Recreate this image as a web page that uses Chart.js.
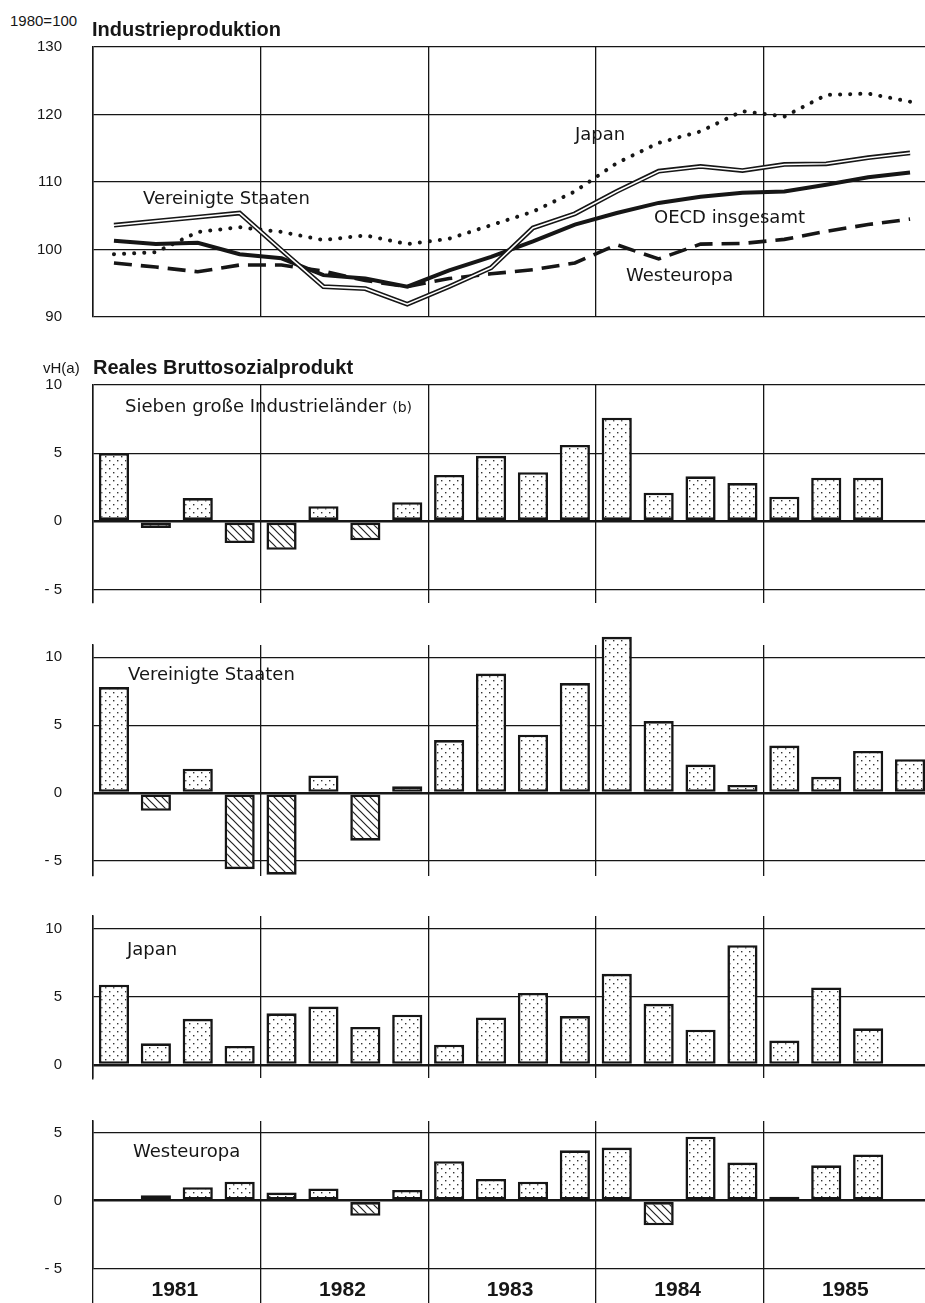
<!DOCTYPE html>
<html lang="de">
<head>
<meta charset="utf-8">
<title>Industrieproduktion und Reales Bruttosozialprodukt</title>
<script src="https://cdn.jsdelivr.net/npm/chart.js@4.4.1/dist/chart.umd.min.js"></script>
<style>
  html, body { margin: 0; padding: 0; background: #fff; overflow: hidden; }
  #page { position: relative; width: 925px; height: 1303px; overflow: hidden; }
  .panel { position: absolute; left: 0; }
  .panel canvas { display: block; }
  .label { position: absolute; white-space: nowrap; line-height: 1; color: #161616;
           font-family: "DejaVu Sans", sans-serif; font-size: 18px; z-index: 2; }
  .title { font-family: "Liberation Sans", Arial, sans-serif; font-weight: bold; font-size: 20px; }
  .unit { font-family: "Liberation Sans", Arial, sans-serif; font-size: 15px; }
  .small { font-size: 14px; }
</style>
</head>
<body>
<div id="page">
  <div class="label unit" style="left:10px; top:13px">1980=100</div>
  <div class="label title" style="left:92px; top:19px">Industrieproduktion</div>
  <div class="label" style="left:143px; top:189px">Vereinigte Staaten</div>
  <div class="label" style="left:575px; top:125px">Japan</div>
  <div class="label" style="left:654px; top:208px">OECD insgesamt</div>
  <div class="label" style="left:626px; top:266px">Westeuropa</div>

  <div class="label unit" style="left:43px; top:360px">vH(a)</div>
  <div class="label title" style="left:93px; top:357px">Reales Bruttosozialprodukt</div>
  <div class="label" style="left:125px; top:397px">Sieben große Industrieländer <span class="small">(b)</span></div>
  <div class="label" style="left:128px; top:665px">Vereinigte Staaten</div>
  <div class="label" style="left:127px; top:940px">Japan</div>
  <div class="label" style="left:133px; top:1142px">Westeuropa</div>
</div>

<script>
// quarters 1981 I .. 1985 IV
const quarters = [
    '1981 I', '1981 II', '1981 III', '1981 IV',
    '1982 I', '1982 II', '1982 III', '1982 IV',
    '1983 I', '1983 II', '1983 III', '1983 IV',
    '1984 I', '1984 II', '1984 III', '1984 IV',
    '1985 I', '1985 II', '1985 III', '1985 IV'
];
const years = ['1981', '1982', '1983', '1984', '1985'];

// Industrieproduktion, 1980 = 100
const prodUS = [103.6, 104.2, 104.8, 105.4, 99.9, 94.5, 94.2, 91.9, 94.5, 97.3,
                103.2, 105.3, 108.6, 111.6, 112.3, 111.7, 112.6, 112.7, 113.6, 114.3];
const prodJapan = [99.3, 99.6, 102.6, 103.3, 102.6, 101.4, 102.1, 100.8, 101.6, 103.6,
                   105.6, 108.6, 112.8, 115.8, 117.5, 120.5, 119.7, 122.9, 123.1, 121.9];
const prodOECD = [101.3, 100.8, 101.0, 99.3, 98.7, 96.2, 95.7, 94.5, 96.9, 98.9,
                  101.2, 103.7, 105.4, 106.9, 107.8, 108.4, 108.6, 109.6, 110.7, 111.4];
const prodWestEurope = [98.0, 97.4, 96.7, 97.7, 97.7, 96.8, 95.4, 94.5, 95.7, 96.4,
                        97.0, 98.0, 100.7, 98.6, 100.8, 100.9, 101.5, 102.7, 103.7, 104.5];

// Reales Bruttosozialprodukt, vH gegenüber Vorquartal (Jahresrate)
const gnpG7 = [5.0, -0.5, 1.7, -1.6, -2.1, 1.1, -1.4, 1.4, 3.4, 4.8,
               3.6, 5.6, 7.6, 2.1, 3.3, 2.8, 1.8, 3.2, 3.2, null];
const gnpUS = [7.8, -1.3, 1.8, -5.6, -6.0, 1.3, -3.5, 0.5, 3.9, 8.8,
               4.3, 8.1, 11.5, 5.3, 2.1, 0.6, 3.5, 1.2, 3.1, 2.5];
const gnpJapan = [5.9, 1.6, 3.4, 1.4, 3.8, 4.3, 2.8, 3.7, 1.5, 3.5,
                  5.3, 3.6, 6.7, 4.5, 2.6, 8.8, 1.8, 5.7, 2.7, null];
const gnpWestEurope = [0.1, 0.4, 1.0, 1.4, 0.6, 0.9, -1.1, 0.8, 2.9, 1.6,
                       1.4, 3.7, 3.9, -1.8, 4.7, 2.8, 0.3, 2.6, 3.4, null];

const prodTicks = [90, 100, 110, 120, 130];
const gnpTicks = [-5, 0, 5, 10];

const INK = '#161616';
const LEFT = 93;     // left edge of every plot area
const WIDTH = 931;   // runs a little past the page, like the original
const PAD = 10;

// fill patterns for the bars
function makeDots() {
    const c = document.createElement('canvas');
    c.width = 8; c.height = 8;
    const g = c.getContext('2d');
    g.fillStyle = '#fff';
    g.fillRect(0, 0, 8, 8);
    g.fillStyle = '#333';
    g.fillRect(1, 1, 1.4, 1.4);
    g.fillRect(5, 5, 1.4, 1.4);
    return g.createPattern(c, 'repeat');
}

function makeHatch() {
    const c = document.createElement('canvas');
    c.width = 8; c.height = 8;
    const g = c.getContext('2d');
    g.fillStyle = '#fff';
    g.fillRect(0, 0, 8, 8);
    g.strokeStyle = '#222';
    g.lineWidth = 1.2;
    g.beginPath();
    g.moveTo(-1, -1); g.lineTo(9, 9);
    g.moveTo(-1, 7); g.lineTo(1, 9);
    g.moveTo(7, -1); g.lineTo(9, 1);
    g.stroke();
    return g.createPattern(c, 'repeat');
}

const dots = makeDots();
const hatch = makeHatch();

function yTickLabel(v) {
    return v < 0 ? '- ' + Math.abs(v) : String(v);
}

function makePanel(top, min, max, ppu, tickValues, type, datasets, showYears) {
    const areaH = Math.round((max - min) * ppu);
    const axisH = showYears ? 34 : 0;

    const wrap = document.createElement('div');
    wrap.className = 'panel';
    wrap.style.top = (top - PAD) + 'px';
    const canvas = document.createElement('canvas');
    canvas.width = WIDTH;
    canvas.height = areaH + PAD + (showYears ? axisH : PAD);
    wrap.appendChild(canvas);
    document.getElementById('page').appendChild(wrap);

    const xTicks = showYears ? {
        autoSkip: false,
        maxRotation: 0,
        padding: -25,
        labelOffset: 19,
        color: INK,
        font: { family: "'Liberation Sans Narrow', 'Liberation Sans', sans-serif", size: 21, weight: 'bold' },
        callback: (v, i) => i % 4 === 1 ? years[Math.floor(i / 4)] : ''
    } : { display: false };

    return new Chart(canvas, {
        type: type,
        data: { labels: quarters, datasets: datasets },
        options: {
            responsive: false,
            animation: false,
            devicePixelRatio: 1,
            layout: { padding: { top: PAD, bottom: showYears ? 0 : PAD, left: 0, right: 0 } },
            plugins: { legend: { display: false }, tooltip: { enabled: false } },
            elements: {
                line: { tension: 0, fill: false },
                point: { radius: 0 }
            },
            scales: {
                x: {
                    type: 'category',
                    offset: true,
                    border: { display: false },
                    grid: {
                        offset: true,
                        color: ctx => ctx.index % 4 === 0 ? INK : 'rgba(0,0,0,0)',
                        lineWidth: 1.3,
                        drawTicks: showYears,
                        tickLength: axisH
                    },
                    ticks: xTicks,
                    afterFit: s => { s.height = axisH; s.paddingLeft = 0; s.paddingRight = 0; }
                },
                y: {
                    min: min,
                    max: max,
                    border: { display: true, color: INK, width: 1.5 },
                    grid: {
                        color: INK,
                        lineWidth: ctx => ctx.tick && ctx.tick.value === 0 ? 2.6 : 1.2,
                        drawTicks: false
                    },
                    ticks: {
                        padding: 31,
                        color: INK,
                        font: { family: "'Liberation Sans', Arial, sans-serif", size: 15 },
                        callback: yTickLabel
                    },
                    afterBuildTicks: s => { s.ticks = tickValues.map(v => ({ value: v })); },
                    afterFit: s => { s.width = LEFT; s.paddingTop = 0; s.paddingBottom = 0; }
                }
            }
        }
    });
}

function barSet(values) {
    return [{
        data: values,
        backgroundColor: ctx => ctx.raw < 0 ? hatch : dots,
        borderColor: INK,
        borderWidth: 2.6,
        borderSkipped: false,
        barPercentage: 0.72,
        categoryPercentage: 1,
        clip: false
    }];
}

const lineSets = [
    { data: prodUS, borderColor: '#fff', borderWidth: 1.6, order: 0 },
    { data: prodUS, borderColor: INK, borderWidth: 4.8, order: 1 },
    { data: prodJapan, borderColor: INK, borderWidth: 4, borderDash: [0.1, 10],
      borderCapStyle: 'round', order: 2 },
    { data: prodOECD, borderColor: INK, borderWidth: 4, order: 3 },
    { data: prodWestEurope, borderColor: INK, borderWidth: 3.6, borderDash: [18, 9], order: 4 }
];

makePanel(47, 90, 130, 6.75, prodTicks, 'line', lineSets, false);
makePanel(385, -6, 10, 13.6, gnpTicks, 'bar', barSet(gnpG7), false);
makePanel(645, -6.1, 10.9, 13.6, gnpTicks, 'bar', barSet(gnpUS), false);
makePanel(916, -0.95, 10.95, 13.6, gnpTicks.filter(v => v >= 0), 'bar', barSet(gnpJapan), false);
makePanel(1121, -5, 5.85, 13.6, gnpTicks.filter(v => v <= 5), 'bar', barSet(gnpWestEurope), true);
</script>
</body>
</html>
